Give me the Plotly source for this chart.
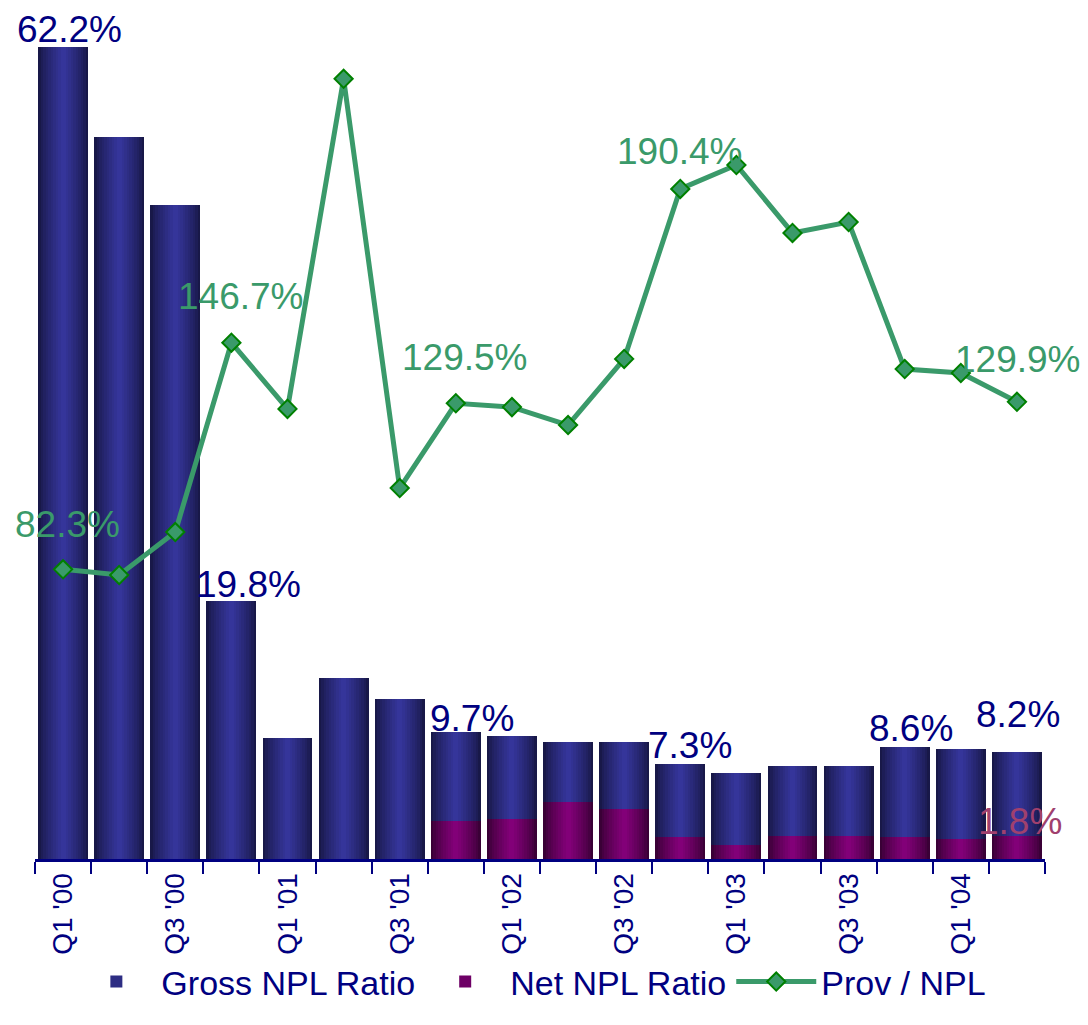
import plotly.graph_objects as go

# ---------------- data ----------------
quarters = ["Q1 '00", "Q2 '00", "Q3 '00", "Q4 '00",
            "Q1 '01", "Q2 '01", "Q3 '01", "Q4 '01",
            "Q1 '02", "Q2 '02", "Q3 '02", "Q4 '02",
            "Q1 '03", "Q2 '03", "Q3 '03", "Q4 '03",
            "Q1 '04", "Q2 '04"]
tick_labels = ["Q1 '00", "", "Q3 '00", "", "Q1 '01", "", "Q3 '01", "",
               "Q1 '02", "", "Q3 '02", "", "Q1 '03", "", "Q3 '03", "",
               "Q1 '04", ""]
gross_npl = [62.2, 55.3, 50.1, 19.8, 9.3, 13.9, 12.3, 9.7,
             9.4, 9.0, 9.0, 7.3, 6.6, 7.1, 7.1, 8.6, 8.4, 8.2]
net_npl = [None, None, None, None, None, None, None, 2.9,
           3.1, 4.4, 3.8, 1.7, 1.1, 1.8, 1.8, 1.7, 1.5, 1.8]
prov_npl = [82.3, 80.7, 92.9, 146.7, 127.9, 221.7, 105.4, 129.5,
            128.4, 123.3, 142.1, 190.4, 197.2, 177.9, 181.0, 139.2,
            138.1, 129.9]

# labelled points: (index, xshift, yshift)
gross_labels = [(0, 6, 18), (3, 17, 16), (7, 16, 14), (11, 10, 18),
                (15, 6, 18), (17, 1, 38)]
net_labels = [(17, 3, 14)]
prov_labels = [(0, 4, 45), (3, 10, 46), (7, 9, 46), (11, 0, 37), (17, 1, 42)]

# ---------------- style ----------------
NAVY = "#000080"
GREEN = "#3A9A6A"
FONT = "Liberation Sans, Arial, sans-serif"


def lerp(c1, c2, t):
    a = [int(c1[i:i + 2], 16) for i in (1, 3, 5)]
    b = [int(c2[i:i + 2], 16) for i in (1, 3, 5)]
    return "#" + "".join(f"{round(a[j] + (b[j] - a[j]) * t):02x}" for j in range(3))


N_LAYERS = 10
BAR_W = 0.89

fig = go.Figure()


def add_gradient_bars(values, edge, center, name, legend_layer):
    for k in range(N_LAYERS):
        t = k / (N_LAYERS - 1)
        fig.add_trace(go.Bar(
            x=quarters, y=values, width=BAR_W * (1 - k / N_LAYERS),
            marker=dict(color=lerp(edge, center, t ** 0.8), line=dict(width=0)),
            name=name, showlegend=(k == legend_layer), legendgroup=name,
            hoverinfo="skip" if k != legend_layer else None,
        ))


add_gradient_bars(gross_npl, "#181848", "#35359A", "Gross NPL Ratio", 6)
add_gradient_bars(net_npl, "#3A0036", "#820078", "Net NPL Ratio", 6)

fig.add_trace(go.Scatter(
    x=quarters, y=prov_npl, yaxis="y2", mode="lines+markers",
    name="Prov / NPL",
    line=dict(color=GREEN, width=5),
    marker=dict(symbol="diamond", size=14, color=GREEN,
                line=dict(color="#008000", width=2)),
))

annotations = []
for i, xs, ys in gross_labels:
    annotations.append(dict(x=quarters[i], y=gross_npl[i], xref="x", yref="y",
                            text=f"{gross_npl[i]:.1f}%", showarrow=False,
                            xshift=xs, yshift=ys, yanchor="middle",
                            font=dict(family=FONT, size=37, color=NAVY)))
for i, xs, ys in net_labels:
    annotations.append(dict(x=quarters[i], y=net_npl[i], xref="x", yref="y",
                            text=f"{net_npl[i]:.1f}%", showarrow=False,
                            xshift=xs, yshift=ys, yanchor="middle",
                            font=dict(family=FONT, size=37, color="#A0406E")))
for i, xs, ys in prov_labels:
    annotations.append(dict(x=quarters[i], y=prov_npl[i], xref="x", yref="y2",
                            text=f"{prov_npl[i]:.1f}%", showarrow=False,
                            xshift=xs, yshift=ys, yanchor="middle",
                            font=dict(family=FONT, size=37, color=GREEN)))

fig.update_layout(
    width=1088, height=1025,
    margin=dict(l=35, r=43, t=20, b=166, autoexpand=False),
    paper_bgcolor="white", plot_bgcolor="white",
    barmode="overlay", bargap=0,
    font=dict(family=FONT, color=NAVY),
    xaxis=dict(
        type="category", range=[-0.5, 17.5],
        tickmode="array", tickvals=quarters, ticktext=tick_labels,
        tickangle=-90, tickson="boundaries", ticks="outside", ticklen=12,
        tickwidth=2, tickcolor=NAVY, showline=True, linecolor=NAVY, linewidth=3,
        showgrid=False, zeroline=False, automargin=False,
        tickfont=dict(family=FONT, size=28, color=NAVY),
    ),
    yaxis=dict(range=[0, 64.3], visible=False, showgrid=False, zeroline=False),
    yaxis2=dict(range=[0, 238.4], overlaying="y", side="right", visible=False,
                showgrid=False, zeroline=False),
    legend=dict(orientation="h", x=0.036, xanchor="left", y=-0.112, yanchor="top",
                font=dict(family=FONT, size=34, color=NAVY),
                itemwidth=80, traceorder="normal", bgcolor="rgba(0,0,0,0)"),
    annotations=annotations,
    showlegend=True,
)

fig.write_html("out.html")
